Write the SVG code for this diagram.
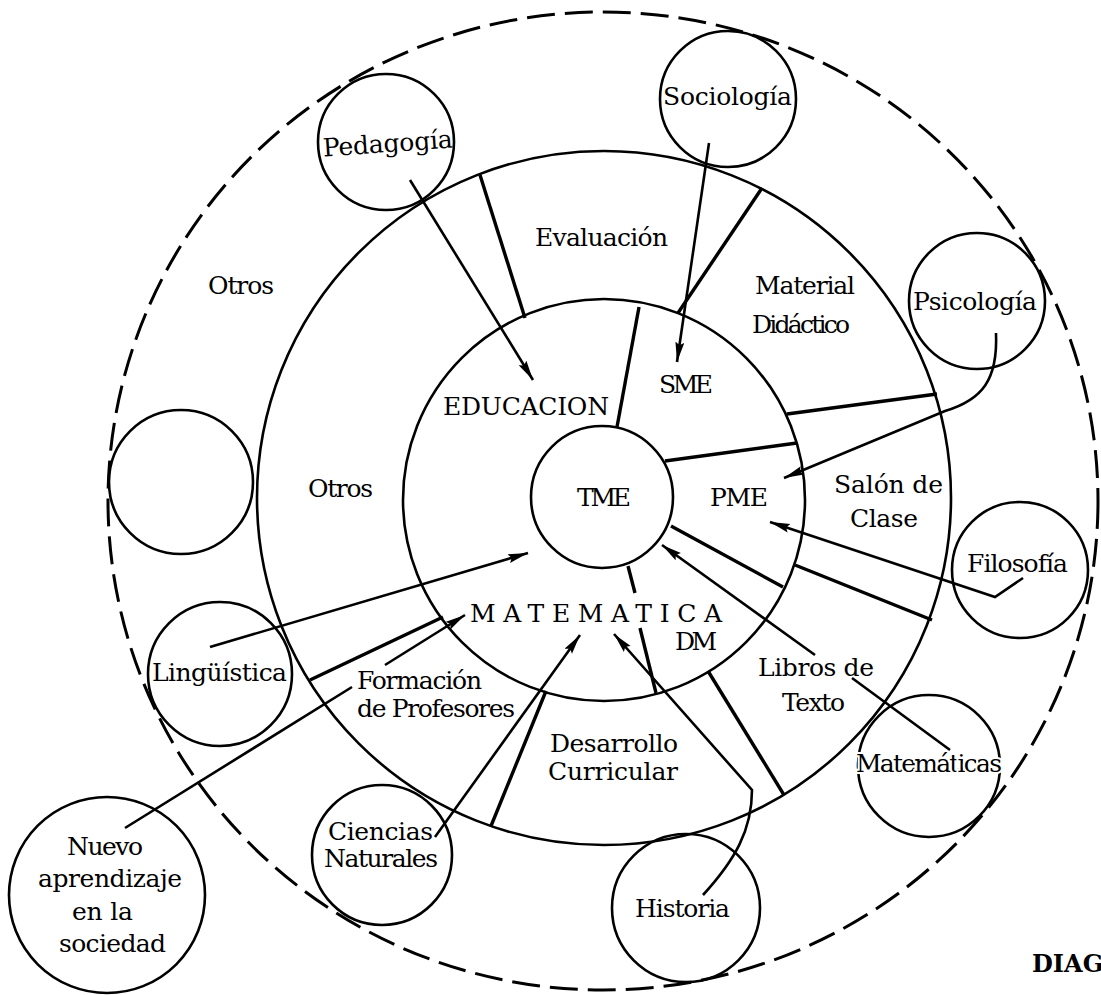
<svg xmlns="http://www.w3.org/2000/svg" width="1101" height="995" viewBox="0 0 1101 995">
<style>
.t{font-family:"DejaVu Serif","Liberation Serif",serif;font-size:25px;fill:#000}
.ring{fill:none;stroke:#000;stroke-width:2.6}
.node{fill:none;stroke:#000;stroke-width:2.6}
.div{stroke:#000;stroke-width:3.4;fill:none}
.arr{stroke:#000;stroke-width:2.6;fill:none;marker-end:url(#ah)}
.seg{stroke:#000;stroke-width:2.6;fill:none}
</style>
<defs>
<marker id="ah" markerUnits="userSpaceOnUse" markerWidth="22" markerHeight="10" refX="20" refY="4.5" orient="auto">
<path d="M0,0 L20,4.5 L0,9 L3,4.5 z" fill="#000"/>
</marker>
</defs>
<rect width="1101" height="995" fill="#fff"/>

<g id="rings">
<ellipse cx="603" cy="501" rx="495" ry="489" fill="none" stroke="#000" stroke-width="3" stroke-dasharray="28 10"/>
<circle class="ring" cx="604" cy="498" r="347"/>
<circle class="ring" cx="604" cy="500" r="201"/>
</g>

<g id="dividers">
<line class="div" x1="480" y1="175" x2="525" y2="318"/>
<line class="div" x1="762" y1="188" x2="678" y2="313"/>
<line class="div" x1="937" y1="394" x2="787" y2="414"/>
<line class="div" x1="795" y1="565" x2="932" y2="620"/>
<line class="div" x1="708" y1="671" x2="784" y2="795"/>
<line class="div" x1="546" y1="691" x2="491" y2="826"/>
<line class="div" x1="443" y1="617" x2="310" y2="680"/>
<line class="div" x1="617" y1="427" x2="639" y2="307"/>
<line class="div" x1="665" y1="461" x2="797" y2="443"/>
<line class="div" x1="671" y1="526" x2="783" y2="587"/>
<line class="div" x1="628" y1="566" x2="635" y2="593"/>
<line class="div" x1="640" y1="628" x2="656" y2="693"/>
</g>

<g id="region-labels">
<text class="t" x="208" y="294" textLength="66">Otros</text>
<text class="t" x="308" y="497" textLength="65">Otros</text>
<text class="t" x="535" y="246" textLength="133">Evaluación</text>
<text class="t" x="755" y="294" textLength="100">Material</text>
<text class="t" x="752" y="333" textLength="98">Didáctico</text>
<text class="t" x="834" y="493" textLength="109">Salón de</text>
<text class="t" x="850" y="527" textLength="68">Clase</text>
<text class="t" x="758" y="676" textLength="116">Libros de</text>
<text class="t" x="782" y="711" textLength="63">Texto</text>
<text class="t" x="550" y="752" font-size="23" textLength="128">Desarrollo</text>
<text class="t" x="548" y="780" font-size="23" textLength="130">Curricular</text>
<text class="t" x="357" y="689" textLength="125">Formación</text>
<text class="t" x="357" y="717" textLength="158">de Profesores</text>
<text class="t" x="443" y="415" font-size="26" textLength="166">EDUCACION</text>
<text class="t" x="659" y="393" textLength="54">SME</text>
<text class="t" x="710" y="506" textLength="58">PME</text>
<text class="t" x="470" y="622" textLength="252" lengthAdjust="spacing">MATEMATICA</text>
<text class="t" x="675" y="650" textLength="42">DM</text>
</g>

<g id="TME">
<circle class="node" cx="602" cy="497" r="71"/>
<text class="t" x="577" y="506" textLength="54">TME</text>
</g>

<g id="Sociologia">
<circle class="node" cx="728" cy="99" r="68"/>
<text class="t" x="663" y="105" textLength="129">Sociología</text>
</g>
<g id="Pedagogia">
<circle class="node" cx="386" cy="142" r="68"/>
<text class="t" x="323" y="152" textLength="130" transform="rotate(-4 388 147)">Pedagogía</text>
</g>
<g id="Psicologia">
<circle class="node" cx="977" cy="301" r="68"/>
<text class="t" x="913" y="310" textLength="124">Psicología</text>
</g>
<g id="Filosofia">
<circle class="node" cx="1020" cy="570" r="68"/>
<text class="t" x="967" y="572" textLength="101">Filosofía</text>
</g>
<g id="Matematicas">
<circle class="node" cx="929" cy="766" r="71"/>
<text class="t" x="856" y="772" textLength="146" stroke="#fff" stroke-width="4" paint-order="stroke">Matemáticas</text>
</g>
<g id="Historia">
<circle class="node" cx="686" cy="908" r="74"/>
<text class="t" x="635" y="917" textLength="95">Historia</text>
</g>
<g id="CienciasNaturales">
<circle class="node" cx="382" cy="855" r="70"/>
<text class="t" x="328" y="840" textLength="105">Ciencias</text>
<text class="t" x="324" y="867" textLength="114">Naturales</text>
</g>
<g id="Nuevo">
<circle class="node" cx="107" cy="895" r="98" stroke-width="3.4"/>
<text class="t" x="67" y="855" textLength="76">Nuevo</text>
<text class="t" x="38" y="887" textLength="144">aprendizaje</text>
<text class="t" x="72" y="920" textLength="61">en la</text>
<text class="t" x="59" y="952" textLength="107">sociedad</text>
</g>
<g id="Linguistica">
<circle class="node" cx="220" cy="674" r="72"/>
<text class="t" x="152" y="681" textLength="135">Lingüística</text>
</g>
<g id="Vacio">
<circle class="node" cx="181" cy="482" r="72"/>
</g>

<g id="connectors">
<path class="arr" d="M410,180 L533,380"/>
<path class="arr" d="M709,143 L677,362"/>
<path class="arr" d="M996,333 C998,380 982,400 945,411 L784,478"/>
<path class="arr" d="M1023,578 L995,597 L770,522"/>
<path class="seg" d="M950,750 L852,678"/>
<path class="arr" d="M815,655 L662,545"/>
<path class="arr" d="M703,895 C735,860 752,830 752,790 L614,634"/>
<path class="arr" d="M435,837 L580,635"/>
<path class="seg" d="M125,828 L352,687"/>
<path class="arr" d="M385,665 L465,615"/>
<path class="arr" d="M210,647 L528,553"/>
</g>

<text x="1032" y="972" font-family="DejaVu Serif, Liberation Serif, serif" font-size="24" font-weight="bold">DIAG</text>
</svg>
